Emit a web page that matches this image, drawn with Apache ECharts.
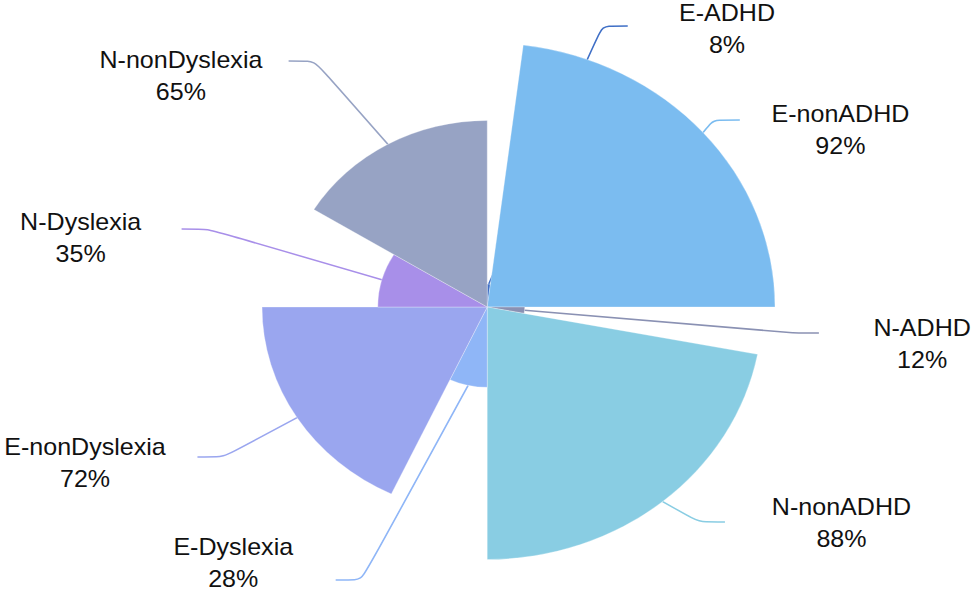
<!DOCTYPE html>
<html>
<head>
<meta charset="utf-8">
<script src="https://cdn.jsdelivr.net/npm/echarts@6/dist/echarts.min.js"></script>
<style>
  html, body { margin: 0; padding: 0; background: #fff; overflow: hidden; }
  /* the reference picture is stretched a little sideways, so the chart is too */
  #chart { width: 895px; height: 598px; transform: scaleX(1.09); transform-origin: 0 0; }
</style>
</head>
<body>
<div id="chart"></div>
<script>
var categories = ['E-ADHD', 'E-nonADHD', 'N-ADHD', 'N-nonADHD', 'E-Dyslexia', 'E-nonDyslexia', 'N-Dyslexia', 'N-nonDyslexia'];
var values = [8, 92, 12, 88, 28, 72, 35, 65];
var colors = ['#3f6fc6', '#7bbcf0', '#8a91b3', '#89cde3', '#8fb6f7', '#9aa6ef', '#a88fe9', '#97a3c4'];

// label layout (chart pixels): text centre x / y, gap between line end and text,
// and how far the text centre sits below the point where the guide line ends
var labelX = [667, 771, 846, 772, 214, 78, 74, 166];
var labelY = [29, 130, 344, 523, 563, 463, 238, 76];
var labelGap = [47, 29, 50, 43, 39, 29, 37, 24];
var labelShift = [3, 10, 11, 1, -17, 6, 9, 15];

var lineH = 32;

var myChart = echarts.init(document.getElementById('chart'), null, { renderer: 'svg' });

var pieData = categories.map(function (name, i) {
    var s = labelShift[i];
    return {
        name: name,
        value: values[i],
        itemStyle: { color: colors[i] },
        labelLine: { lineStyle: { color: colors[i] } },
        label: {
            // uneven top/bottom padding moves the line's attach point off the text centre
            padding: [Math.max(2 * s, 0), labelGap[i], Math.max(-2 * s, 0), labelGap[i]]
        }
    };
});

var option = {
    animation: false,
    series: [{
        type: 'pie',
        roseType: 'radius',
        center: [447, 307],
        radius: [0, 264],
        startAngle: 90,
        clockwise: true,
        avoidLabelOverlap: false,
        itemStyle: {
            borderColor: 'rgba(255,255,255,0.35)',
            borderWidth: 0.8
        },
        label: {
            formatter: '{b}\n{c}%',
            fontFamily: 'Liberation Sans, Arial, sans-serif',
            fontSize: 23,
            lineHeight: lineH,
            color: '#111',
            align: 'center',
            backgroundColor: 'rgba(0,0,0,0)'
        },
        labelLine: {
            show: true,
            length: 20,
            length2: 24,
            smooth: 0.2,
            lineStyle: { width: 1.5 }
        },
        labelLayout: function (params) {
            var i = params.dataIndex;
            var s = labelShift[i];
            return {
                x: labelX[i],
                y: labelY[i] - lineH - Math.max(2 * s, 0),
                align: 'center',
                verticalAlign: 'top'
            };
        },
        data: pieData
    }]
};

myChart.setOption(option);
</script>
</body>
</html>
